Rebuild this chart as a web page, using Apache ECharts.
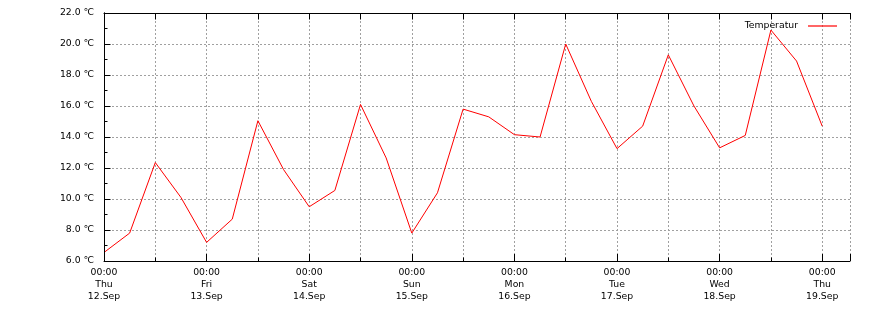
<!DOCTYPE html>
<html>
<head>
<meta charset="utf-8">
<script src="https://cdn.jsdelivr.net/npm/echarts@6/dist/echarts.min.js"></script>
<style>
html,body{margin:0;padding:0;background:#fff;}
#chart{width:870px;height:310px;}
</style>
</head>
<body>
<div id="chart"></div>
<script>
// ---- data ----
const times = [
  '2024-09-12T00:00Z','2024-09-12T06:00Z','2024-09-12T12:00Z','2024-09-12T18:00Z',
  '2024-09-13T00:00Z','2024-09-13T06:00Z','2024-09-13T12:00Z','2024-09-13T18:00Z',
  '2024-09-14T00:00Z','2024-09-14T06:00Z','2024-09-14T12:00Z','2024-09-14T18:00Z',
  '2024-09-15T00:00Z','2024-09-15T06:00Z','2024-09-15T12:00Z','2024-09-15T18:00Z',
  '2024-09-16T00:00Z','2024-09-16T06:00Z','2024-09-16T12:00Z','2024-09-16T18:00Z',
  '2024-09-17T00:00Z','2024-09-17T06:00Z','2024-09-17T12:00Z','2024-09-17T18:00Z',
  '2024-09-18T00:00Z','2024-09-18T06:00Z','2024-09-18T12:00Z','2024-09-18T18:00Z',
  '2024-09-19T00:00Z'
];
const temperatur = [
  6.55, 7.8, 12.35, 10.1,
  7.2, 8.7, 15.05, 11.9,
  9.5, 10.55, 16.1, 12.65,
  7.8, 10.4, 15.8, 15.3,
  14.15, 14.0, 20.0, 16.3,
  13.25, 14.7, 19.3, 16.0,
  13.3, 14.1, 20.9, 18.9,
  14.7
];
const tickTimes = ['00:00','00:00','00:00','00:00','00:00','00:00','00:00','00:00'];
const tickDays  = ['Thu','Fri','Sat','Sun','Mon','Tue','Wed','Thu'];
const tickDates = ['12.Sep','13.Sep','14.Sep','15.Sep','16.Sep','17.Sep','18.Sep','19.Sep'];
const seriesName = 'Temperatur';
const yMin = 6, yMax = 22, yStep = 2;
const axisStartTime = '2024-09-12T00:00Z';
const axisSpanHours = 174.5;

// ---- build ----
const t0 = Date.parse(axisStartTime);
const points = times.map((t, i) => [(Date.parse(t) - t0) / 3600000, temperatur[i]]);

const FONT = 'DejaVu Sans';
const FS = 9.3;
const gridRect = { left: 104, top: 13, right: 20, bottom: 49 };
const gridDash = { type: [2, 2], color: '#a0a0a0', width: 1 };
const black = { color: '#000', width: 1 };

const chart = echarts.init(document.getElementById('chart'), null, { renderer: 'canvas' });
chart.setOption({
  animation: false,
  backgroundColor: '#fff',
  textStyle: { fontFamily: FONT },
  grid: [
    Object.assign({}, gridRect),
    Object.assign({}, gridRect)
  ],
  legend: {
    data: [{ name: seriesName, icon: 'rect' }],
    right: 28,
    top: 16.5,
    align: 'right',
    itemWidth: 29,
    itemHeight: 1.2,
    itemStyle: { color: '#ff0000', borderWidth: 0 },
    textStyle: { fontFamily: FONT, fontSize: FS, color: '#000', padding: [0, 5, 0, 0] }
  },
  xAxis: [
    { // main bottom axis: day ticks + labels
      type: 'value', gridIndex: 0, position: 'bottom', z: 5,
      min: 0, max: axisSpanHours, interval: 24,
      axisLine: { show: true, lineStyle: black },
      axisTick: { show: true, inside: true, length: 7, lineStyle: black },
      splitLine: { show: false },
      axisLabel: {
        show: true, margin: 5, color: '#000', fontFamily: FONT, fontSize: FS, lineHeight: 12.3,
        showMaxLabel: true,
        formatter: function (v) {
          if (Math.abs(v % 24) > 1e-6) return '';
          const i = Math.round(v / 24);
          if (i < 0 || i >= tickDays.length) return '';
          return tickTimes[i] + '\n' + tickDays[i] + '\n' + tickDates[i];
        }
      }
    },
    { // top mirror axis
      type: 'value', gridIndex: 0, position: 'top', z: 5,
      min: 0, max: axisSpanHours, interval: 12,
      axisLine: { show: true, lineStyle: black },
      axisTick: { show: true, inside: true, length: 6.5, lineStyle: black },
      axisLabel: { show: false },
      splitLine: { show: false }
    },
    { // grid lines + half-day minor ticks
      type: 'value', gridIndex: 1, position: 'bottom', z: 1,
      min: 0, max: axisSpanHours, interval: 12,
      axisLine: { show: false },
      axisTick: { show: true, inside: true, length: 3.5, lineStyle: black },
      axisLabel: { show: false },
      splitLine: { show: true, lineStyle: gridDash }
    }
  ],
  yAxis: [
    {
      type: 'value', gridIndex: 0, position: 'left', z: 5,
      min: yMin, max: yMax, interval: yStep,
      axisLine: { show: true, lineStyle: black },
      axisTick: { show: true, inside: true, length: 6.5, lineStyle: black },
      minorTick: { show: true, splitNumber: 2, length: 3.5, lineStyle: black },
      splitLine: { show: false },
      axisLabel: {
        show: true, margin: 10, color: '#000', fontFamily: FONT, fontSize: FS,
        formatter: function (v) { return v.toFixed(1) + ' \u2103'; }
      }
    },
    {
      type: 'value', gridIndex: 0, position: 'right', z: 5,
      min: yMin, max: yMax, interval: yStep,
      axisLine: { show: true, lineStyle: black },
      axisTick: { show: false },
      axisLabel: { show: false },
      splitLine: { show: false }
    },
    {
      type: 'value', gridIndex: 1, position: 'left', z: 1,
      min: yMin, max: yMax, interval: yStep,
      axisLine: { show: false },
      axisTick: { show: false },
      axisLabel: { show: false },
      splitLine: { show: true, lineStyle: gridDash }
    }
  ],
  series: [
    {
      name: seriesName,
      type: 'line',
      xAxisIndex: 0, yAxisIndex: 0,
      data: points,
      symbol: 'none',
      showSymbol: false,
      z: 3,
      lineStyle: { color: '#ff0000', width: 1 },
      itemStyle: { color: '#ff0000' }
    }
  ]
});
</script>
</body>
</html>
